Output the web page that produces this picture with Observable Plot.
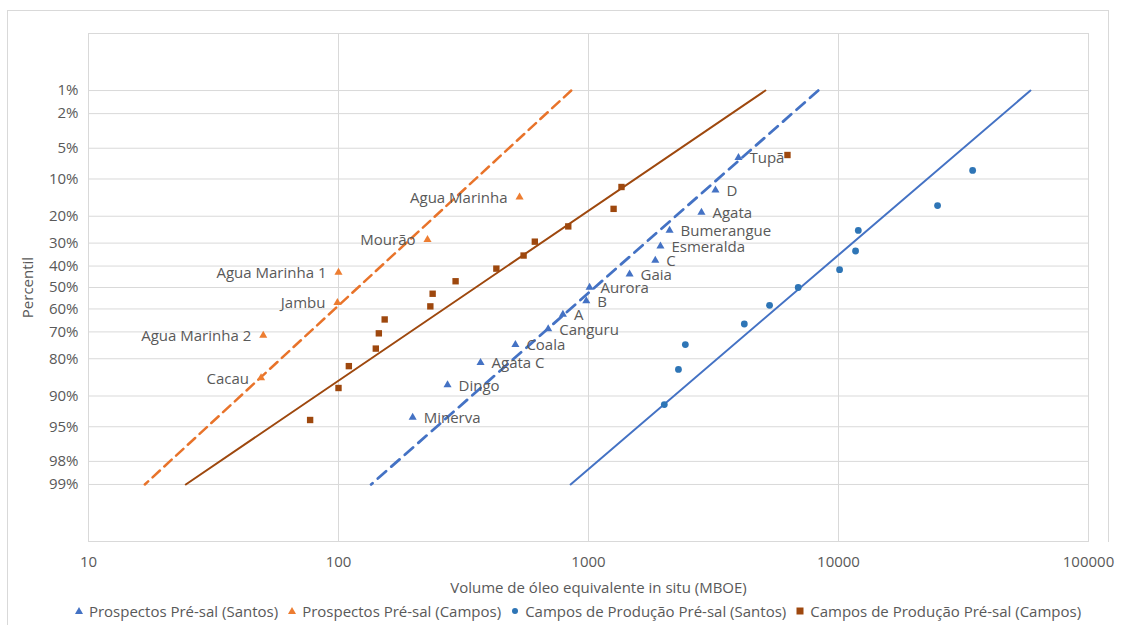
<!DOCTYPE html>
<html>
<head>
<meta charset="utf-8">
<script src="https://cdn.jsdelivr.net/npm/d3@7"></script>
<script src="https://cdn.jsdelivr.net/npm/@observablehq/plot@0.6"></script>
<style>
  body { margin: 0; background: #fff; font-family: "Open Sans", sans-serif; }
  #wrap { position: relative; width: 1130px; height: 625px; overflow: hidden; background: #fff; }
  #frame { position: absolute; left: 7px; top: 10px; width: 1100px; height: 531px; border: 1px solid #d9d9d9; border-bottom: none; pointer-events: none; }
  #frameLeft { position: absolute; left: 7px; top: 541px; height: 90px; border-left: 1px solid #d9d9d9; }
  #chart { position: absolute; left: 0; top: 0; }
  #legend { position: absolute; left: 0; top: 598px; width: 1130px; height: 26px; display: flex; justify-content: center; align-items: center; gap: 10px; font-size: 15px; color: #595959; padding-left: 26px; box-sizing: border-box; }
  #legend .item { display: flex; align-items: center; gap: 6px; white-space: nowrap; }
</style>
</head>
<body>
<div id="wrap">
  <div id="frame"></div>
  <div id="frameLeft"></div>
  <div id="chart"></div>
  <div id="legend"></div>
</div>
<script>
// ---------- data ----------
// Prospectos Pré-sal (Santos)
const santosProspNames = ["Tupã","D","Agata","Bumerangue","Esmeralda","C","Gaia","Aurora","B","A","Canguru","Coala","Agata C","Dingo","Minerva"];
const santosProspVol   = [3980, 3220, 2830, 2110, 1940, 1850, 1460, 1010, 980, 790, 690, 510, 370, 273, 198];
const santosProspPct   = [6.25, 12.5, 18.75, 25, 31.25, 37.5, 43.75, 50, 56.25, 62.5, 68.75, 75, 81.25, 87.5, 93.75];

// Prospectos Pré-sal (Campos)
const camposProspNames = ["Agua Marinha","Mourão","Agua Marinha 1","Jambu","Agua Marinha 2","Cacau"];
const camposProspVol   = [530, 227, 100, 99, 50, 49];
const camposProspPct   = [14.3, 28.6, 42.9, 57.1, 71.4, 85.7];

// Campos de Produção Pré-sal (Santos)
const santosProdVol = [34400, 24900, 12000, 11700, 10100, 6900, 5300, 4200, 2440, 2290, 2010];
const santosProdPct = [8.33, 16.67, 25, 33.33, 41.67, 50, 58.33, 66.67, 75, 83.33, 91.67];

// Campos de Produção Pré-sal (Campos)
const camposProdVol = [6250, 1355, 1260, 830, 610, 550, 428, 294, 238, 233, 153, 145, 141, 110, 100, 77];
const camposProdPct = [5.88, 11.76, 17.65, 23.53, 29.41, 35.29, 41.18, 47.06, 52.94, 58.82, 64.71, 70.59, 76.47, 82.35, 88.24, 94.12];

// Trend lines (volume at 1% and 99%)
const trendPct = [1, 99];
const trendSantosProsp = [8300, 135];
const trendCamposProsp = [853, 16.8];
const trendSantosProd  = [58600, 848];
const trendCamposProd  = [5100, 24.5];

// Axis ticks
const xTicks = [10, 100, 1000, 10000, 100000];
const yTickPct = [1, 2, 5, 10, 20, 30, 40, 50, 60, 70, 80, 90, 95, 98, 99];
const xTitle = "Volume de óleo equivalente in situ (MBOE)";
const yTitle = "Percentil";

const seriesNames = ["Prospectos Pré-sal (Santos)", "Prospectos Pré-sal (Campos)", "Campos de Produção Pré-sal (Santos)", "Campos de Produção Pré-sal (Campos)"];
const seriesColors = ["#4472C4", "#ED7D31", "#2E75B6", "#9E480E"];
const lineColors = ["#4472C4", "#E8732A", "#4472C4", "#9E480E"];

// ---------- helpers ----------
function probit(p) {
  const a=[-3.969683028665376e+01,2.209460984245205e+02,-2.759285104469687e+02,1.383577518672690e+02,-3.066479806614716e+01,2.506628277459239e+00];
  const b=[-5.447609879822406e+01,1.615858368580409e+02,-1.556989798598866e+02,6.680131188771972e+01,-1.328068155288572e+01];
  const c=[-7.784894002430293e-03,-3.223964580411365e-01,-2.400758277161838e+00,-2.549732539343734e+00,4.374664141464968e+00,2.938163982698783e+00];
  const d=[7.784695709041462e-03,3.224671290700398e-01,2.445134137142996e+00,3.754408661907416e+00];
  const pl = 0.02425, ph = 1 - pl;
  let q, r;
  if (p < pl) { q = Math.sqrt(-2*Math.log(p)); return (((((c[0]*q+c[1])*q+c[2])*q+c[3])*q+c[4])*q+c[5])/((((d[0]*q+d[1])*q+d[2])*q+d[3])*q+1); }
  if (p <= ph) { q = p - 0.5; r = q*q; return (((((a[0]*r+a[1])*r+a[2])*r+a[3])*r+a[4])*r+a[5])*q/(((((b[0]*r+b[1])*r+b[2])*r+b[3])*r+b[4])*r+1); }
  q = Math.sqrt(-2*Math.log(1-p)); return -(((((c[0]*q+c[1])*q+c[2])*q+c[3])*q+c[4])*q+c[5])/((((d[0]*q+d[1])*q+d[2])*q+d[3])*q+1);
}
const zOf = pct => probit(pct / 100);

const rows = (vols, pcts, names) => vols.map((v, i) => ({v, p: pcts[i], name: names ? names[i] : ""}));
const santosProsp = rows(santosProspVol, santosProspPct, santosProspNames);
const camposProsp = rows(camposProspVol, camposProspPct, camposProspNames);
const santosProd = rows(santosProdVol, santosProdPct);
const camposProd = rows(camposProdVol, camposProdPct);
const trend = (vols) => vols.map((v, i) => ({v, p: trendPct[i]}));

const yTickZ = yTickPct.map(zOf);
const yLabel = new Map(yTickPct.map(p => [zOf(p), p + "%"]));

const X = d => d.v, Y = d => zOf(d.p);
const txt = "#595959", grid = "#d9d9d9";

const chart = Plot.plot({
  width: 1130,
  height: 598,
  marginLeft: 88,
  marginRight: 42,
  marginTop: 33,
  marginBottom: 57,
  style: {fontFamily: "'Open Sans', sans-serif", fontSize: "15px", color: txt, background: "transparent", overflow: "visible"},
  x: {type: "log", domain: [10, 100000]},
  y: {domain: [-3, 3], reverse: true},
  marks: [
    Plot.gridX(xTicks, {stroke: grid, strokeOpacity: 1}),
    Plot.gridY(yTickZ, {stroke: grid, strokeOpacity: 1}),
    Plot.frame({stroke: grid}),
    Plot.axisX(xTicks, {tickSize: 0, tickPadding: 15, tickFormat: d => String(d), fill: txt, fontSize: 15, label: null}),
    Plot.text([xTitle], {text: d => d, frameAnchor: "bottom", dx: 10, dy: 47, lineAnchor: "middle", fill: txt, fontSize: 15}),
    Plot.axisY(yTickZ, {tickSize: 0, tickPadding: 10, tickFormat: z => yLabel.get(z), fill: txt, fontSize: 15,
      label: yTitle, labelAnchor: "center", labelOffset: 66, labelArrow: "none"}),
    // trend lines
    Plot.line(trend(trendCamposProsp), {x: X, y: Y, stroke: lineColors[1], strokeWidth: 2.5, strokeDasharray: "10,6"}),
    Plot.line(trend(trendCamposProd), {x: X, y: Y, stroke: lineColors[3], strokeWidth: 2}),
    Plot.line(trend(trendSantosProsp), {x: X, y: Y, stroke: lineColors[0], strokeWidth: 2.75, strokeDasharray: "11,7"}),
    Plot.line(trend(trendSantosProd), {x: X, y: Y, stroke: lineColors[2], strokeWidth: 2}),
    // points
    Plot.dot(santosProsp, {x: X, y: Y, symbol: "triangle", r: 3, fill: seriesColors[0]}),
    Plot.dot(camposProsp, {x: X, y: Y, symbol: "triangle", r: 3, fill: seriesColors[1]}),
    Plot.dot(santosProd, {x: X, y: Y, symbol: "circle", r: 3.4, fill: seriesColors[2]}),
    Plot.dot(camposProd, {x: X, y: Y, symbol: "square", r: 3.6, fill: seriesColors[3]}),
    // labels
    Plot.text(santosProsp, {x: X, y: Y, text: "name", textAnchor: "start", dx: 11, dy: 1, fill: txt, fontSize: 15}),
    Plot.text(camposProsp, {x: X, y: Y, text: "name", textAnchor: "end", dx: -12, dy: 1, fill: txt, fontSize: 15})
  ]
});
document.getElementById("chart").appendChild(chart);

// legend
const legend = document.getElementById("legend");
const shapes = [
  '<polygon points="4,0 8,7 0,7" />',
  '<polygon points="4,0 8,7 0,7" />',
  '<circle cx="4" cy="4" r="3" />',
  '<rect x="0.5" y="0.5" width="7" height="7" />'
];
seriesNames.forEach((name, i) => {
  const it = document.createElement("div");
  it.className = "item";
  it.innerHTML = `<svg width="8" height="8" viewBox="0 0 8 8" style="fill:${seriesColors[i]}">${shapes[i]}</svg><span>${name}</span>`;
  legend.appendChild(it);
});
</script>
</body>
</html>
